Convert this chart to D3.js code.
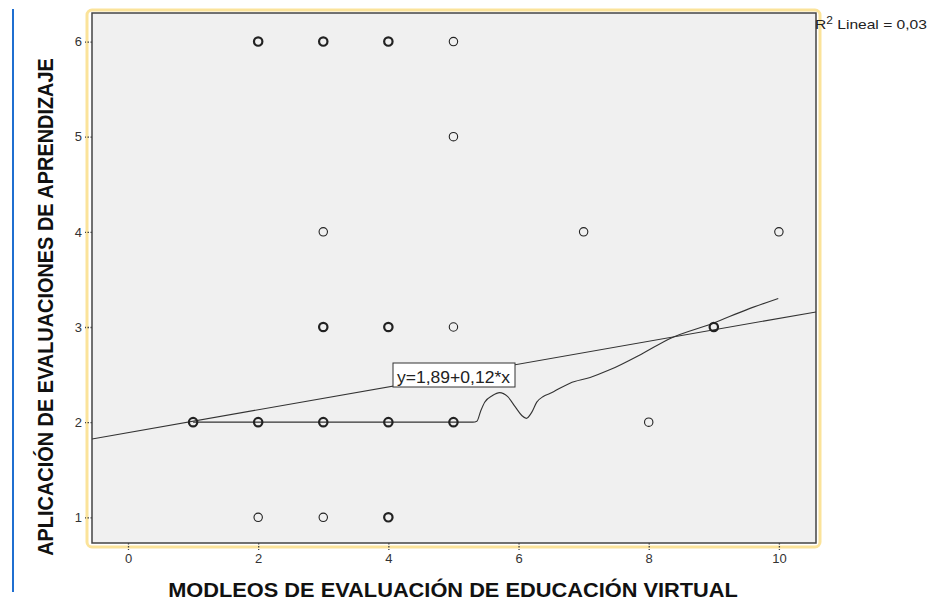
<!DOCTYPE html>
<html><head><meta charset="utf-8">
<script src="https://cdn.jsdelivr.net/npm/d3@7"></script>
<style>body{margin:0;background:#fff;} svg{display:block;}</style>
</head><body>
<script>
// Observations (x, y, count of overlapping cases)
const pointX = [1,2,2,2,3,3,3,3,3,4,4,4,4,5,5,5,5,7,8,9,10];
const pointY = [2,1,2,6,1,2,3,4,6,1,2,3,6,2,3,5,6,4,2,3,4];
const pointN = [3,1,4,2,1,5,3,1,2,3,4,2,2,3,1,1,1,1,1,2,1];
// Linear fit
const intercept = 1.89, slope = 0.12;
const fitLabel = "y=1,89+0,12*x";
const r2Label = "Lineal = 0,03";
// Loess curve
const loessX = [1,2,3,4,5,5.3,5.36,5.42,5.48,5.6,5.71,5.83,5.95,6.05,6.12,6.2,6.28,6.38,6.48,6.79,7.1,7.4,7.9,8.33,8.99,9.5,9.99];
const loessY = [2,2,2,2,2,2,2.01,2.12,2.21,2.28,2.31,2.27,2.16,2.07,2.04,2.1,2.21,2.27,2.3,2.41,2.47,2.55,2.72,2.88,3.04,3.18,3.3];
const xTicks = [0,2,4,6,8,10];
const yTicks = [1,2,3,4,5,6];
const xTitle = "MODLEOS DE EVALUACIÓN DE EDUCACIÓN VIRTUAL";
const yTitle = "APLICACIÓN DE EVALUACIONES DE APRENDIZAJE";

const W = 934, H = 601;
const L = 92, R = 816, T = 13, B = 543;
const svg = d3.select("body").append("svg").attr("width", W).attr("height", H);
const x = d3.scaleLinear().domain([-0.553, 10.57]).range([L, R]);
const y = d3.scaleLinear().domain([0.73, 6.3]).range([B, T]);
const FONT = "'Liberation Sans', Arial, sans-serif";

// blue left bar
svg.append("line").attr("x1",13).attr("x2",13).attr("y1",9).attr("y2",592)
  .attr("stroke","#1f6fd1").attr("stroke-width",2);
// yellow outer frame
svg.append("rect").attr("x",87).attr("y",10).attr("width",733).attr("height",537)
  .attr("rx",5).attr("fill","none").attr("stroke","#fbe39a").attr("stroke-width",3);
// plot area
svg.append("rect").attr("x",L).attr("y",T).attr("width",R-L).attr("height",B-T)
  .attr("fill","#f0f0f0").attr("stroke","#444").attr("stroke-width",1.5);

svg.append("clipPath").attr("id","c").append("rect")
  .attr("x",L).attr("y",T).attr("width",R-L).attr("height",B-T);
const g = svg.append("g").attr("clip-path","url(#c)");

// axes
const xAxis = d3.axisBottom(x).tickValues(xTicks).tickFormat(d3.format("d")).tickSize(7).tickPadding(4);
const gx = svg.append("g").attr("transform",`translate(0,${B})`).call(xAxis);
const yAxis = d3.axisLeft(y).tickValues(yTicks).tickFormat(d3.format("d")).tickSize(7).tickPadding(3);
const gy = svg.append("g").attr("transform",`translate(${L},0)`).call(yAxis);
[gx,gy].forEach(a=>{
  a.select(".domain").remove();
  a.selectAll(".tick line").attr("stroke","#444").attr("stroke-dasharray","1.5,1.5").attr("stroke-width",1.3);
  a.selectAll(".tick text").attr("fill","#333").style("font-family",FONT).style("font-size","13px");
});

// fit line
const fx = x.domain();
g.append("line").attr("x1",x(fx[0])).attr("y1",y(intercept+slope*fx[0]))
  .attr("x2",x(fx[1])).attr("y2",y(intercept+slope*fx[1]))
  .attr("stroke","#333").attr("stroke-width",1.1);

// loess
const loess = loessX.map((v,i)=>[v,loessY[i]]);
g.append("path").datum(loess)
  .attr("d", d3.line().x(d=>x(d[0])).y(d=>y(d[1])).curve(d3.curveMonotoneX))
  .attr("fill","none").attr("stroke","#333").attr("stroke-width",1.1);

// points
g.selectAll("circle.p").data(pointX.map((v,i)=>({x:v,y:pointY[i],n:pointN[i]})))
  .enter().append("circle").attr("class","p")
  .attr("cx",d=>x(d.x)).attr("cy",d=>y(d.y)).attr("r",4.2)
  .attr("fill","none").attr("stroke","#222").attr("stroke-width",d=>d.n>1?2.2:1.1);

function fitText(sel, target){
  const w = sel.node().getComputedTextLength();
  return target / w;
}

// equation label box
const bx = 393, by = 363;
svg.append("rect").attr("x",bx).attr("y",by).attr("width",122).attr("height",24)
  .attr("fill","#fff").attr("stroke","#333").attr("stroke-width",1);
svg.append("text").attr("x",bx+4).attr("y",by+19.5).text(fitLabel)
  .attr("textLength",113).attr("lengthAdjust","spacingAndGlyphs")
  .style("font-family",FONT).style("font-size","16.5px").attr("fill","#222");

// R2 label
const rt = svg.append("text")
  .style("font-family",FONT).style("font-size","13px").attr("fill","#222");
rt.append("tspan").text("R");
rt.append("tspan").text("2").attr("dy",-5).style("font-size","10px");
rt.append("tspan").text(" " + r2Label).attr("dy",5);
const sr = Math.min(1.35, fitText(rt, 112));
rt.attr("transform",`translate(815,29) scale(${sr},1)`);

// axis titles (scaled to reference widths)
const xt = svg.append("text").attr("text-anchor","middle").text(xTitle)
  .style("font-family",FONT).style("font-weight","bold").style("font-size","20px").attr("fill","#111");
const sx = fitText(xt, 570);
xt.attr("transform",`translate(453,597) scale(${sx},1)`);

const yt = svg.append("text").attr("text-anchor","middle").text(yTitle)
  .style("font-family","'Liberation Sans Narrow', "+FONT).style("font-weight","bold").style("font-size","22px").attr("fill","#111");
const sy = fitText(yt, 498);
yt.attr("transform",`translate(53,307) rotate(-90) scale(${sy},1)`);
</script>
</body></html>
